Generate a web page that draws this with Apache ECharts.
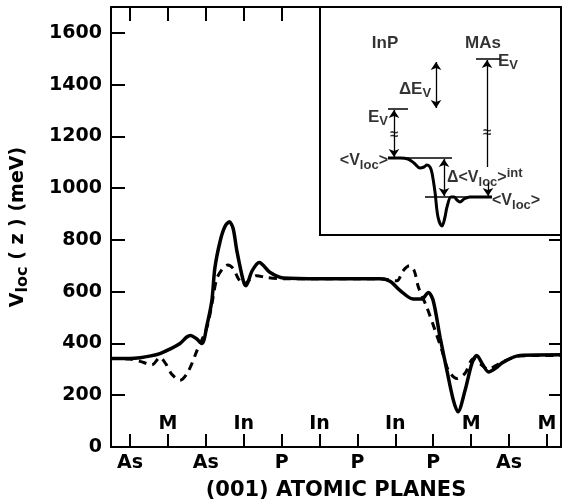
<!DOCTYPE html>
<html><head><meta charset="utf-8">
<script src="https://cdn.jsdelivr.net/npm/echarts@6/dist/echarts.min.js"></script>
<style>html,body{margin:0;padding:0;background:#fff}#c{width:562px;height:503px}</style>
</head><body><div id="c"></div>
<script>
// ---- data ----
const planes = ['As','M','As','In','P','In','P','In','P','M','As','M'];
const yMin = 0, yMax = 1700, yStep = 200;
const zMax = 11.87;

// solid curve
const solidZ = [0, 0.5, 0.77, 1.05, 1.29, 1.55, 1.82, 2.0, 2.1, 2.24, 2.40, 2.53, 2.66, 2.74, 2.88, 3.0, 3.12, 3.22, 3.32, 3.49, 3.56, 3.72, 3.91, 4.2, 4.55, 5.5, 6.5, 7.1, 7.36, 7.63, 7.97, 8.2, 8.37, 8.5, 8.68, 8.86, 9.03, 9.15, 9.34, 9.52, 9.65, 9.8, 9.96, 10.15, 10.35, 10.79, 11.87];
const solidV = [342, 342, 345, 352, 361, 378, 400, 425, 431, 420, 400, 470, 565, 692, 796, 850, 870, 845, 758, 642, 623, 680, 713, 674, 653, 650, 650, 650, 640, 604, 572, 572, 597, 565, 424, 296, 181, 136, 219, 323, 354, 320, 290, 305, 328, 354, 356];

// dashed curve
const dashedZ = [0, 0.5, 0.77, 1.08, 1.29, 1.45, 1.61, 1.82, 2.03, 2.27, 2.53, 2.67, 2.79, 2.95, 3.08, 3.22, 3.36, 3.50, 3.65, 3.84, 4.1, 4.55, 5.5, 6.5, 7.1, 7.54, 7.70, 7.87, 8.0, 8.11, 8.33, 8.55, 8.73, 8.90, 9.12, 9.34, 9.55, 9.75, 9.95, 10.15, 10.35, 10.79, 11.87];
const dashedV = [342, 340, 331, 318, 346, 320, 280, 258, 290, 373, 462, 560, 650, 690, 703, 690, 650, 628, 645, 662, 655, 650, 650, 650, 650, 642, 680, 700, 680, 617, 540, 450, 373, 296, 265, 285, 340, 320, 300, 315, 330, 352, 354];

// inset schematic (schematic units)
const insetCurveX = [68, 80, 88, 94, 100, 104, 107, 110, 112, 115, 118, 122, 125, 127, 131, 134, 137, 140, 144, 150, 172];
const insetCurveY = [151, 151, 152, 156, 161, 160, 158, 160, 166, 185, 210, 219, 210, 200, 190, 190, 193, 195, 192, 190, 190];
const insetRules = [[[156,52],[180,52]], [[68,102],[88,102]], [[87,151],[132,151]], [[105,190],[172,190]]];
const insetArrowsBoth = [[[116,55],[116,101]], [[74,103],[74,150]], [[124,152],[124,189]]];
const insetArrowsEnd = [[[167,160],[167,53]], [[168,176],[168,189]]];

// ---- chart ----
const FONT = 'DejaVu Sans';
const IFONT = 'Liberation Sans';
const chart = echarts.init(document.getElementById('c'), null, {renderer: 'canvas'});
const tickPos = planes.map((_, i) => i + 0.5);
const lowerPos = tickPos.filter((_, i) => i % 2 === 0);
const upperPos = tickPos.filter((_, i) => i % 2 === 1);
const planeName = v => planes[Math.round(v - 0.5)];
const black = '#000';
const axLine = () => ({show: true, onZero: false, lineStyle: {color: black, width: 2}});
const noLine = () => ({show: false, onZero: false});
const tick = len => ({show: true, inside: true, length: len, lineStyle: {color: black, width: 2}});
const mainRect = () => ({left: 111, right: 1, top: 7, bottom: 56, show: false, containLabel: false, outerBoundsMode: 'none'});

const subRich = {
  sub: {fontFamily: IFONT, fontWeight: 'bold', fontSize: 13, color: black, verticalAlign: 'bottom', lineHeight: 10},
  sup: {fontFamily: IFONT, fontWeight: 'bold', fontSize: 13, color: black, verticalAlign: 'top', lineHeight: 10}
};
function txt(at, text, align, size) {
  return {value: at, label: {show: true, formatter: text, align: align, verticalAlign: 'middle',
    position: [0, 0], fontFamily: IFONT, fontWeight: 'bold', fontSize: size || 16, color: black, lineHeight: 22, rich: subRich}};
}
const insetTexts = [
  txt([65,36], 'InP', 'center', 17),
  txt([163,36], 'MAs', 'center', 17),
  txt([178,54], 'E{sub|V}', 'left', 17),
  txt([95,82], 'ΔE{sub|V}', 'center', 17),
  txt([68,110], 'E{sub|V}', 'right', 17),
  txt([68,154], '<V{sub|loc}>', 'right'),
  txt([127,171], 'Δ<V{sub|loc}>{sup|int}', 'left'),
  txt([172,194], '<V{sub|loc}>', 'left'),
  txt([74,128], '≈', 'center', 15),
  txt([167,126], '≈', 'center', 15)
];

const option = {
  animation: false,
  backgroundColor: '#fff',
  grid: [
    mainRect(),
    {left: 320, top: 7, width: 241, height: 228, show: true, backgroundColor: '#fff', borderColor: black, borderWidth: 2, z: 3, containLabel: false, outerBoundsMode: 'none'},
    mainRect(),
    mainRect()
  ],
  xAxis: [
    {gridIndex: 0, type: 'value', position: 'bottom', min: 0, max: zMax,
      axisLine: axLine(), splitLine: {show: false}, axisTick: {show: false},
      axisLabel: {customValues: lowerPos, formatter: planeName, margin: 7, fontFamily: FONT, fontWeight: 'bold', fontSize: 19, color: black},
      name: '(001) ATOMIC PLANES', nameLocation: 'middle', nameGap: 33,
      nameTextStyle: {fontFamily: FONT, fontWeight: 'bold', fontSize: 21, color: black}},
    {gridIndex: 0, type: 'value', position: 'top', min: 0, max: zMax,
      axisLine: axLine(), splitLine: {show: false},
      axisTick: Object.assign(tick(14), {customValues: tickPos}), axisLabel: {show: false}},
    {gridIndex: 1, type: 'value', min: 0, max: 241, show: false},
    {gridIndex: 2, type: 'value', position: 'bottom', min: 0, max: zMax,
      axisLine: noLine(), axisTick: {show: false}, splitLine: {show: false},
      axisLabel: {inside: true, customValues: upperPos, formatter: planeName, margin: 13, fontFamily: FONT, fontWeight: 'bold', fontSize: 19, color: black}},
    {gridIndex: 3, type: 'value', position: 'bottom', min: 0, max: zMax,
      axisLine: noLine(), splitLine: {show: false}, axisLabel: {show: false},
      axisTick: Object.assign(tick(13), {customValues: tickPos})}
  ],
  yAxis: [
    {gridIndex: 0, type: 'value', position: 'left', min: yMin, max: yMax, interval: yStep,
      axisLine: axLine(), splitLine: {show: false}, axisTick: {show: false},
      axisLabel: {showMaxLabel: false, margin: 9, formatter: v => String(v), fontFamily: FONT, fontWeight: 'bold', fontSize: 19, color: black},
      name: 'V{sub|loc} ( z ) (meV)', nameLocation: 'middle', nameRotate: 90, nameGap: 80,
      nameTextStyle: {fontFamily: FONT, fontWeight: 'bold', fontSize: 19, color: black, lineHeight: 26,
        rich: {sub: {fontFamily: FONT, fontWeight: 'bold', fontSize: 16, color: black, verticalAlign: 'bottom', lineHeight: 12}}}},
    {gridIndex: 0, type: 'value', position: 'right', min: yMin, max: yMax, interval: yStep,
      axisLine: axLine(), splitLine: {show: false}, axisTick: tick(12), axisLabel: {show: false}},
    {gridIndex: 1, type: 'value', min: 0, max: 228, inverse: true, show: false},
    {gridIndex: 2, type: 'value', position: 'left', min: yMin, max: yMax, interval: yStep,
      axisLine: noLine(), splitLine: {show: false}, axisTick: tick(14), axisLabel: {show: false}},
    {gridIndex: 3, type: 'value', min: yMin, max: yMax, show: false}
  ],
  series: [
    {type: 'line', xAxisIndex: 0, yAxisIndex: 0, data: dashedZ.map((z, i) => [z, dashedV[i]]),
      showSymbol: false, smooth: 0.3, lineStyle: {color: black, width: 3, type: [8, 6]}},
    {type: 'line', xAxisIndex: 0, yAxisIndex: 0, data: solidZ.map((z, i) => [z, solidV[i]]),
      showSymbol: false, smooth: 0.3, lineStyle: {color: black, width: 3.5}},
    {type: 'line', xAxisIndex: 2, yAxisIndex: 2, z: 10, data: insetCurveX.map((x, i) => [x, insetCurveY[i]]),
      showSymbol: false, smooth: 0.35, lineStyle: {color: black, width: 3}},
    {type: 'lines', coordinateSystem: 'cartesian2d', xAxisIndex: 2, yAxisIndex: 2, z: 10,
      data: insetRules.map(c => ({coords: c})), symbol: ['none', 'none'],
      lineStyle: {color: black, width: 1.5, opacity: 1}},
    {type: 'lines', coordinateSystem: 'cartesian2d', xAxisIndex: 2, yAxisIndex: 2, z: 10,
      data: insetArrowsBoth.map(c => ({coords: c})), symbol: ['arrow', 'arrow'], symbolSize: 8,
      lineStyle: {color: black, width: 1.3, opacity: 1}},
    {type: 'lines', coordinateSystem: 'cartesian2d', xAxisIndex: 2, yAxisIndex: 2, z: 10,
      data: insetArrowsEnd.map(c => ({coords: c})), symbol: ['none', 'arrow'], symbolSize: 8,
      lineStyle: {color: black, width: 1.3, opacity: 1}},
    {type: 'scatter', xAxisIndex: 2, yAxisIndex: 2, z: 11, symbolSize: 0, data: insetTexts}
  ]
};
chart.setOption(option);
</script></body></html>
